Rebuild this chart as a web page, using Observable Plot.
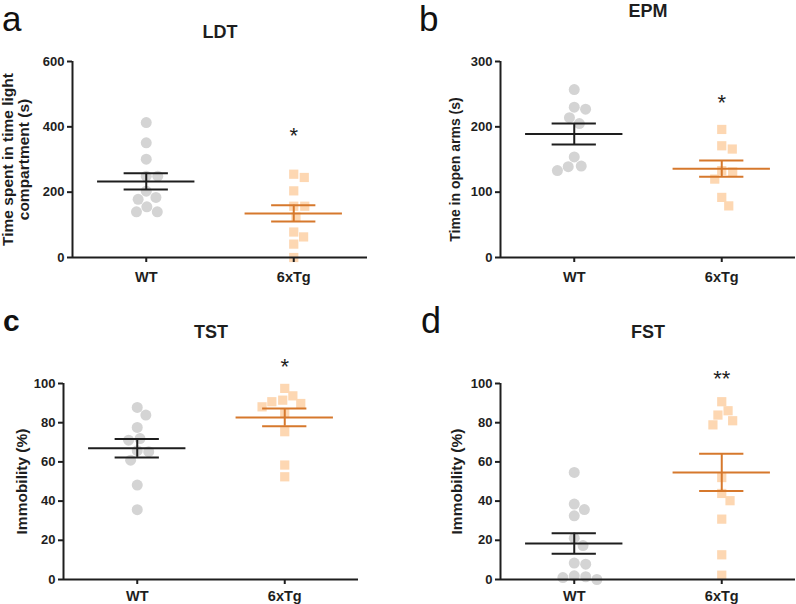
<!DOCTYPE html>
<html>
<head>
<meta charset="utf-8">
<script src="https://cdn.jsdelivr.net/npm/d3@7"></script>
<script src="https://cdn.jsdelivr.net/npm/@observablehq/plot@0.6"></script>
<style>
  html, body { margin: 0; padding: 0; background: #fff; }
  #root { position: relative; width: 796px; height: 604px; font-family: Arial, "Liberation Sans", sans-serif; }
  .panel { position: absolute; }
  #letters { position: absolute; left: 0; top: 0; pointer-events: none; }
</style>
</head>
<body>
<div id="root"></div>
<script>
// ---------------- data ----------------
const groups = ["WT", "6xTg"];
const panelLetters = ["a", "b", "c", "d"];
const panelTitles = ["LDT", "EPM", "TST", "FST"];
const yLabels = ["Time spent in time light\ncompartment (s)", "Time in open arms (s)", "Immobility (%)", "Immobility (%)"];
const yMaxes = [600, 300, 100, 100];
const yTicksA = [0, 200, 400, 600];
const yTicksB = [0, 100, 200, 300];
const yTicksCD = [0, 20, 40, 60, 80, 100];

const ldtWT = [413, 351, 301, 249, 249, 203, 184, 178, 155, 140, 140];
const ldtTg = [255, 245, 204, 157, 157, 124, 78, 63, 41, 0];
const epmWT = [257, 230, 227, 214, 205, 154, 140, 139, 133];
const epmTg = [196, 171, 166, 133, 131, 120, 92, 79];
const tstWT = [87.8, 83.9, 77.6, 71.9, 71.1, 65.7, 65.2, 60.9, 48.2, 35.6];
const tstTg = [97.5, 93.7, 91.5, 90.7, 89.8, 88.1, 84.7, 75.4, 58.4, 52.4];
const fstWT = [54.6, 38.5, 35.7, 32.5, 21.1, 17.3, 8.4, 7.8, 1.9, 1.4, 1.0, 0];
const fstTg = [90.7, 86.1, 83.9, 81.0, 78.9, 52.0, 43.9, 40.2, 30.8, 12.6, 2.2];

// mean and SEM (WT, 6xTg) as drawn
const ldtMean = [233, 135], ldtSem = [25, 25];
const epmMean = [189, 136], epmSem = [16, 12.5];
const tstMean = [67.0, 82.7], tstSem = [4.7, 4.5];
const fstMean = [18.4, 54.6], fstSem = [5.2, 9.5];

// significance marks above 6xTg
const sigTexts = ["*", "*", "*", "**"];
const sigValues = [380, 241, 110, 104];

// ---------------- styling ----------------
const font = 'Arial, "Liberation Sans", sans-serif';
const ink = "#1e1e1e";
const lineColors = ["#1e1e1e", "#d6782c"];
const dotGrey = "#d4d4d4";
const dotPeach = "#fdd7b2";

const layouts = [
  {left: 0,   top: 0,   width: 398, height: 300, mL: 72, mR: 31, mT: 61,  mB: 43, titleDy: -29, labelDx: -57, labelDy: 0,  labelSize: 15.5, xPad: 9},
  {left: 400, top: 0,   width: 396, height: 300, mL: 100, mR: 1, mT: 61,  mB: 43, titleDy: -50, labelDx: -45, labelDy: 10, labelSize: 14,   xPad: 9},
  {left: 0,   top: 300, width: 398, height: 304, mL: 63, mR: 40, mT: 83, mB: 25, titleDy: -51, labelDx: -42, labelDy: 0,  labelSize: 15.5, xPad: 6},
  {left: 400, top: 300, width: 396, height: 304, mL: 100, mR: 1, mT: 83, mB: 25, titleDy: -51, labelDx: -44, labelDy: 0,  labelSize: 15.5, xPad: 6}
];

// simple beeswarm: horizontal offsets (px) so that markers do not overlap
function swarm(ysPx, d) {
  const xs = new Array(ysPx.length);
  const placed = [];
  ysPx.forEach((y, i) => {
    const cands = [0];
    for (const p of placed) {
      const dy = Math.abs(p.y - y);
      if (dy < d) {
        const dx = Math.sqrt(d * d - dy * dy) + 0.01;
        cands.push(p.x + dx, p.x - dx);
      }
    }
    cands.sort((a, b) => Math.abs(a) - Math.abs(b) || b - a);
    for (const c of cands) {
      if (placed.every(p => (p.x - c) ** 2 + (p.y - y) ** 2 >= d * d - 0.05)) {
        xs[i] = c; placed.push({x: c, y}); break;
      }
    }
  });
  return xs;
}

const panelData = [
  {wt: ldtWT, tg: ldtTg, mean: ldtMean, sem: ldtSem, ticks: yTicksA},
  {wt: epmWT, tg: epmTg, mean: epmMean, sem: epmSem, ticks: yTicksB},
  {wt: tstWT, tg: tstTg, mean: tstMean, sem: tstSem, ticks: yTicksCD},
  {wt: fstWT, tg: fstTg, mean: fstMean, sem: fstSem, ticks: yTicksCD}
];

const root = document.getElementById("root");

panelData.forEach((pd, k) => {
  const L = layouts[k];
  const yMax = yMaxes[k];
  const innerH = L.height - L.mT - L.mB;
  const innerW = L.width - L.mL - L.mR;
  const xDomain = [-0.5, 1.5];
  const unitPx = innerW / (xDomain[1] - xDomain[0]);
  const toPx = v => v / yMax * innerH;

  const mk = (vals, g, d) => {
    const offs = swarm(vals.map(toPx), d);
    return vals.map((v, i) => ({g, v, x: g + offs[i] / unitPx}));
  };
  const wtPts = mk(pd.wt, 0, 11.5);
  const tgPts = mk(pd.tg, 1, 11);
  const stats = groups.map((name, g) => ({g, mean: pd.mean[g], sem: pd.sem[g], color: lineColors[g]}));

  const plot = Plot.plot({
    width: L.width, height: L.height,
    marginLeft: L.mL, marginRight: L.mR, marginTop: L.mT, marginBottom: L.mB,
    x: {type: "linear", domain: xDomain, axis: null},
    y: {domain: [0, yMax], axis: null},
    color: {type: "identity"},
    style: {fontFamily: font, fontSize: "13px", fontWeight: "bold", color: ink, background: "transparent", overflow: "visible"},
    marks: [
      Plot.dot(wtPts, {x: "x", y: "v", r: 5.5, fill: dotGrey, stroke: "none", symbol: "circle"}),
      Plot.dot(tgPts, {x: "x", y: "v", r: 5.2, fill: dotPeach, stroke: "none", symbol: "square"}),
      Plot.ruleY(stats, {y: "mean", x1: d => d.g - 0.33, x2: d => d.g + 0.33, stroke: "color", strokeWidth: 2}),
      Plot.ruleY(stats, {y: d => d.mean + d.sem, x1: d => d.g - 0.15, x2: d => d.g + 0.15, stroke: "color", strokeWidth: 2}),
      Plot.ruleY(stats, {y: d => d.mean - d.sem, x1: d => d.g - 0.15, x2: d => d.g + 0.15, stroke: "color", strokeWidth: 2}),
      Plot.ruleX(stats, {x: "g", y1: d => d.mean - d.sem, y2: d => d.mean + d.sem, stroke: "color", strokeWidth: 2}),
      Plot.ruleY([0], {stroke: ink, strokeWidth: 2}),
      Plot.ruleX([xDomain[0]], {y1: 0, y2: yMax, stroke: ink, strokeWidth: 2}),
      Plot.axisY({ticks: pd.ticks, tickSize: 5, tickPadding: 3, tickFormat: d => String(d), label: null, stroke: ink, strokeWidth: 2, fontSize: 13, fontWeight: "bold", fill: ink}),
      Plot.axisX({ticks: [0, 1], tickSize: 5, tickPadding: L.xPad, tickFormat: i => groups[i], label: null, stroke: ink, strokeWidth: 2, fontSize: 14.5, fontWeight: "bold", fill: ink}),
      Plot.text([sigTexts[k]], {x: 1, y: () => sigValues[k], text: d => d, fontSize: 22, fontWeight: "normal", fill: ink, dy: 3}),
      Plot.text([panelTitles[k]], {frameAnchor: "top", lineAnchor: "middle", dy: L.titleDy, text: d => d, fontSize: 18, fontWeight: "bold", fill: ink}),
      Plot.text([yLabels[k]], {frameAnchor: "left", textAnchor: "middle", lineAnchor: "middle", rotate: -90, dx: L.labelDx, dy: L.labelDy, text: d => d, fontSize: L.labelSize, fontWeight: "bold", lineHeight: 1.05, fill: ink})
    ]
  });
  const wrap = document.createElement("div");
  wrap.className = "panel";
  wrap.style.left = L.left + "px";
  wrap.style.top = L.top + "px";
  wrap.appendChild(plot);
  root.appendChild(wrap);
});

// panel letters
const letterPos = [
  {x: 2, y: 31, size: 35, weight: "normal"},
  {x: 419, y: 31, size: 35, weight: "normal"},
  {x: 3, y: 331, size: 30, weight: "bold"},
  {x: 421, y: 333, size: 36, weight: "normal"}
];
const svg = d3.select(root).append("svg").attr("id", "letters").attr("width", 796).attr("height", 604);
svg.selectAll("text").data(panelLetters).join("text")
  .attr("x", (d, i) => letterPos[i].x)
  .attr("y", (d, i) => letterPos[i].y)
  .attr("font-family", font)
  .attr("font-size", (d, i) => letterPos[i].size)
  .attr("font-weight", (d, i) => letterPos[i].weight)
  .attr("fill", "#111")
  .text(d => d);
</script>
</body>
</html>
